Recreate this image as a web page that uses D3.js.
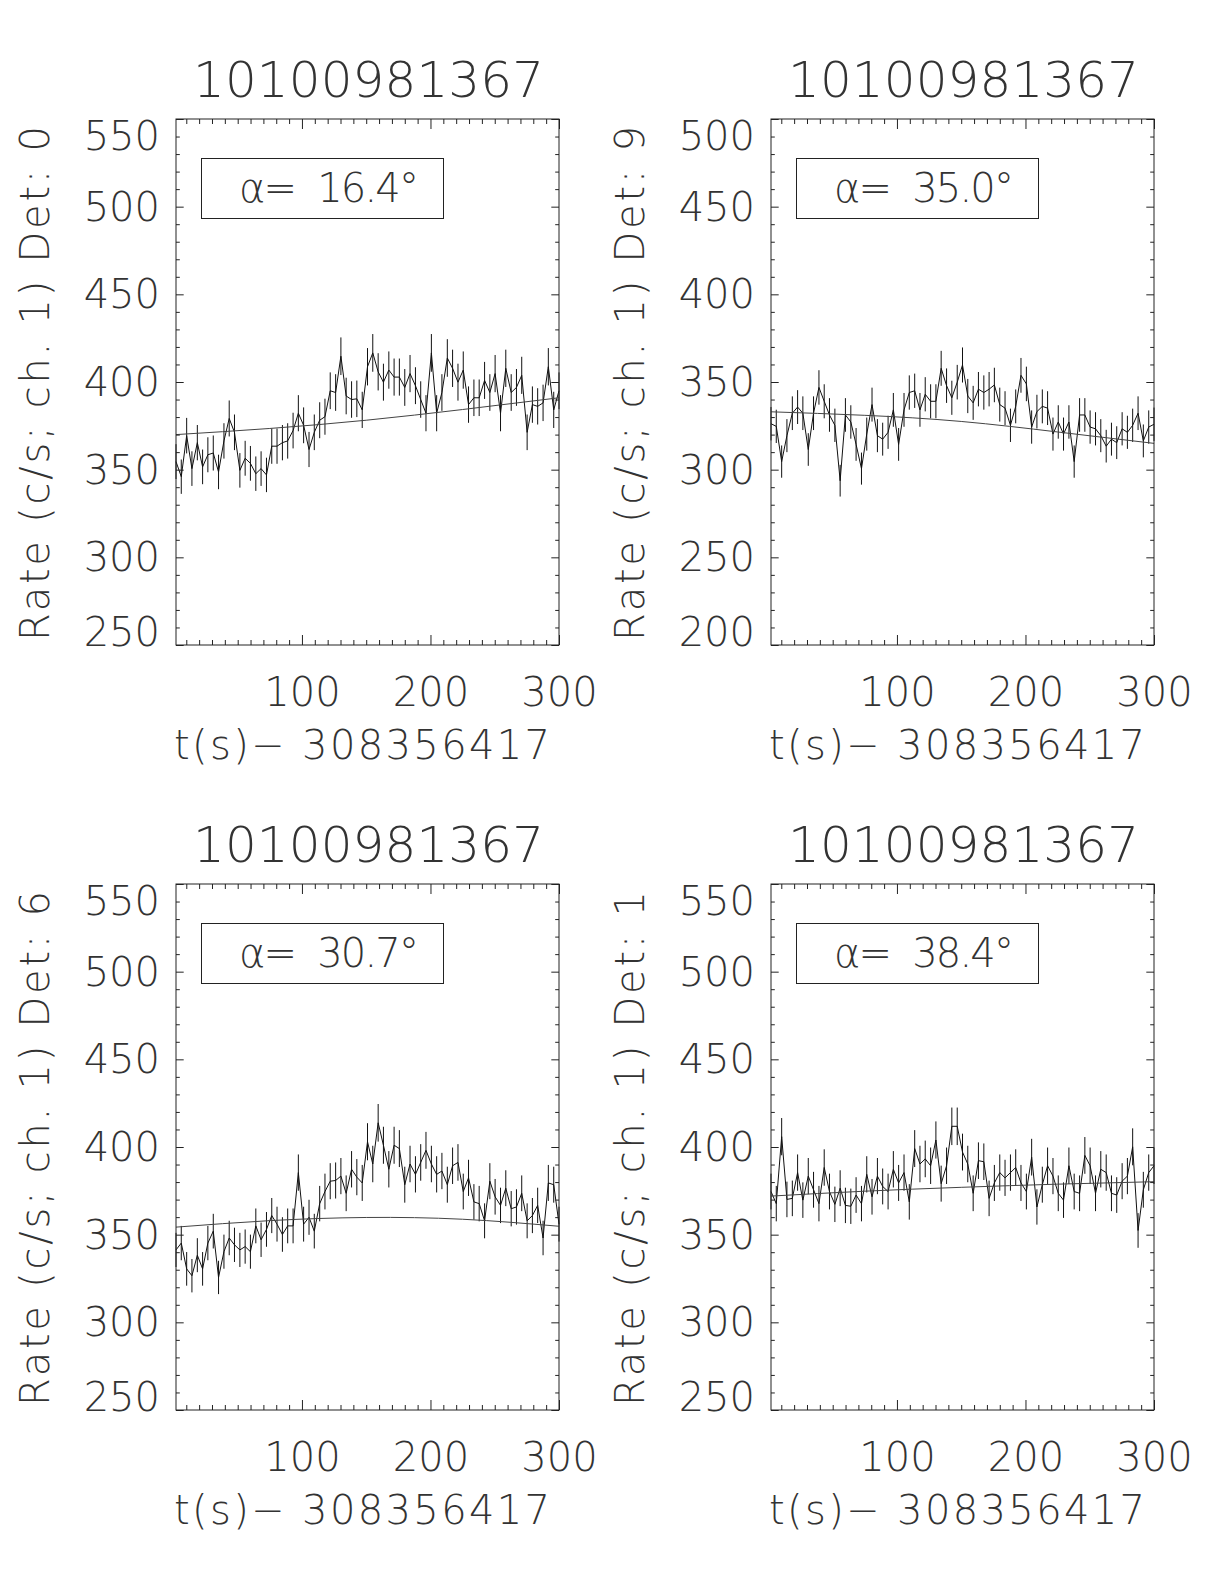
<!DOCTYPE html>
<html><head><meta charset="utf-8">
<script src="https://cdn.jsdelivr.net/npm/d3@7"></script>
<style>
html,body{margin:0;padding:0;background:#fff;}
svg text{font-family:"DejaVu Sans",sans-serif;font-weight:200;fill:#333;}
</style></head><body>
<svg id="chart" width="1224" height="1584"></svg>
<script>
// ---------- data ----------
const obsTitle = "10100981367";
const xTitle = "t(s)\u2212 308356417";
const yTitlePrefix = "Rate (c/s; ch. 1) Det: ";
const detectors = ["0", "9", "6", "1"];
const angles = ["16.4", "35.0", "30.7", "38.4"];

const times = [2.0, 6.1, 10.3, 14.4, 18.6, 22.7, 26.8, 31.0, 35.1, 39.3, 43.4, 47.5, 51.7, 55.8, 59.9, 64.1, 68.2, 72.4, 76.5, 80.6, 84.8, 88.9, 93.1, 97.2, 101.3, 105.5, 109.6, 113.8, 117.9, 122.0, 126.2, 130.3, 134.4, 138.6, 142.7, 146.9, 151.0, 155.1, 159.3, 163.4, 167.6, 171.7, 175.8, 180.0, 184.1, 188.3, 192.4, 196.5, 200.7, 204.8, 208.9, 213.1, 217.2, 221.4, 225.5, 229.6, 233.8, 237.9, 242.1, 246.2, 250.3, 254.5, 258.6, 262.8, 266.9, 271.0, 275.2, 279.3, 283.4, 287.6, 291.7, 295.9, 300.0];

const rateDet0 = [354.6, 346.0, 369.4, 350.6, 365.4, 351.6, 358.5, 359.5, 348.7, 366.4, 379.2, 371.3, 349.6, 356.5, 353.6, 347.7, 350.6, 347.0, 363.4, 363.4, 365.4, 366.4, 372.3, 382.2, 375.3, 361.5, 371.3, 378.2, 380.2, 395.0, 394.0, 414.7, 392.0, 390.0, 390.4, 384.1, 408.7, 416.6, 405.8, 399.9, 406.8, 402.8, 402.8, 396.9, 404.8, 397.9, 390.0, 382.2, 416.6, 382.2, 394.0, 413.7, 407.8, 399.9, 406.8, 387.1, 391.0, 391.0, 400.9, 394.0, 404.8, 382.2, 407.8, 394.0, 396.9, 403.8, 371.3, 387.1, 386.1, 388.1, 408.7, 384.1, 395.0];
const rateDet9 = [326.2, 324.7, 304.6, 319.4, 332.2, 335.7, 332.2, 311.5, 332.2, 346.9, 339.0, 331.2, 325.3, 293.7, 331.2, 327.2, 314.4, 300.6, 320.3, 337.1, 319.4, 317.4, 321.3, 334.1, 314.4, 334.1, 344.0, 345.0, 334.1, 343.0, 339.0, 339.0, 357.8, 347.9, 341.0, 349.9, 359.7, 342.0, 338.1, 345.9, 344.0, 345.9, 348.3, 337.1, 335.1, 325.3, 336.1, 353.8, 348.9, 324.3, 333.1, 336.1, 335.1, 320.3, 327.2, 320.3, 327.2, 304.6, 331.2, 331.2, 324.3, 323.3, 319.4, 313.4, 317.4, 315.4, 323.3, 321.3, 325.3, 332.2, 316.4, 324.3, 325.9];
const rateDet6 = [341.3, 345.2, 330.5, 326.6, 338.3, 330.5, 345.2, 352.0, 325.6, 340.3, 348.1, 344.2, 341.3, 343.2, 340.3, 355.0, 347.1, 353.0, 360.9, 356.0, 350.1, 355.0, 355.0, 385.4, 356.0, 359.9, 352.0, 367.7, 374.6, 380.5, 380.9, 383.4, 373.6, 387.3, 382.8, 379.5, 403.0, 390.3, 413.8, 401.0, 387.3, 401.0, 399.1, 378.5, 390.3, 384.4, 391.2, 398.1, 390.3, 384.4, 386.3, 378.5, 389.3, 391.2, 374.6, 382.4, 368.7, 367.7, 357.9, 380.5, 371.6, 366.7, 376.5, 364.8, 365.8, 373.6, 357.9, 360.9, 366.7, 348.1, 379.5, 378.5, 356.0];
const rateDet1 = [374.6, 367.7, 405.9, 370.1, 370.7, 385.4, 369.7, 383.4, 375.6, 367.7, 388.3, 374.6, 367.3, 376.5, 366.7, 366.2, 372.6, 367.7, 384.4, 371.6, 383.4, 377.5, 374.6, 387.3, 379.5, 385.4, 368.7, 399.1, 390.3, 393.2, 389.3, 404.0, 379.1, 389.3, 411.8, 411.8, 397.1, 390.3, 373.6, 392.2, 391.6, 370.7, 379.5, 385.4, 382.4, 385.4, 388.3, 379.5, 374.6, 394.2, 365.8, 378.5, 389.3, 383.4, 373.6, 369.7, 389.3, 374.6, 373.6, 395.2, 389.3, 373.6, 387.3, 385.4, 373.6, 372.6, 380.5, 383.4, 400.1, 352.4, 375.6, 385.4, 389.3];

// background fit curves (read at a few times)
const fitTimes = [2, 75, 150, 225, 300];
const fitDet0 = [370.0, 373.5, 378.2, 384.3, 391.0];
const fitDet9 = [333.0, 331.0, 327.5, 321.5, 315.0];
const fitDet6 = [354.3, 358.0, 359.8, 358.8, 354.8];
const fitDet1 = [372.0, 374.8, 377.0, 378.8, 380.2];

const xDomain = [2, 300];
const xMajorTicks = [100, 200, 300];
const yTicksA = [250, 300, 350, 400, 450, 500, 550];
const yTicksB = [200, 250, 300, 350, 400, 450, 500];
const exposure = 3.6; // effective seconds per bin for Poisson error bars

const panels = [
  {det: detectors[0], angle: angles[0], rates: rateDet0, fit: fitDet0, yTicks: yTicksA},
  {det: detectors[1], angle: angles[1], rates: rateDet9, fit: fitDet9, yTicks: yTicksB},
  {det: detectors[2], angle: angles[2], rates: rateDet6, fit: fitDet6, yTicks: yTicksA},
  {det: detectors[3], angle: angles[3], rates: rateDet1, fit: fitDet1, yTicks: yTicksA}
];

// ---------- layout ----------
const W = 383, H = 526;
const origins = [[176, 119], [771, 119], [176, 884], [771, 884]];
const svg = d3.select("#chart");
const ink = "#222";

panels.forEach((p, i) => {
  const [ox, oy] = origins[i];
  const g = svg.append("g").attr("transform", `translate(${ox},${oy})`);
  const x = d3.scaleLinear().domain(xDomain).range([0, W]);
  const yDom = [p.yTicks[0], p.yTicks[p.yTicks.length - 1]];
  const y = d3.scaleLinear().domain(yDom).range([H, 0]);
  const xMinor = d3.range(10, 301, 10).filter(v => !xMajorTicks.includes(v));
  const yMinor = d3.range(yDom[0], yDom[1] + 1, 10).filter(v => !p.yTicks.includes(v));

  const pts = times.map((t, k) => ({t, v: p.rates[k]}));
  const err = v => Math.sqrt(v / exposure);

  // error bars
  g.append("g").selectAll("line").data(pts).join("line")
    .attr("x1", d => x(d.t)).attr("x2", d => x(d.t))
    .attr("y1", d => y(d.v - err(d.v))).attr("y2", d => y(d.v + err(d.v)))
    .attr("stroke", "#111").attr("stroke-width", 1);

  // light curve
  g.append("path").datum(pts)
    .attr("d", d3.line().x(d => x(d.t)).y(d => y(d.v)))
    .attr("fill", "none").attr("stroke", "#111").attr("stroke-width", 1);

  // fit
  g.append("path").datum(fitTimes.map((t, k) => [t, p.fit[k]]))
    .attr("d", d3.line().x(d => x(d[0])).y(d => y(d[1])).curve(d3.curveNatural))
    .attr("fill", "none").attr("stroke", "#444").attr("stroke-width", 1);

  // frame
  g.append("rect").attr("width", W).attr("height", H)
    .attr("fill", "none").attr("stroke", ink).attr("stroke-width", 1);

  const noLab = () => "";
  const axisStyle = sel => sel.attr("color", ink).attr("font-size", 40).attr("font-family", null)
    .call(s => s.select(".domain").remove());

  // bottom axis with labels
  g.append("g").attr("transform", `translate(0,${H})`)
    .call(d3.axisBottom(x).tickValues(xMajorTicks).tickSizeInner(-10).tickSizeOuter(0).tickPadding(33).tickFormat(d3.format("d")))
    .call(axisStyle);
  g.append("g").attr("transform", `translate(0,${H})`)
    .call(d3.axisBottom(x).tickValues(xMinor).tickSizeInner(-5).tickSizeOuter(0).tickFormat(noLab))
    .call(axisStyle);
  // top axis mirrored
  g.append("g")
    .call(d3.axisTop(x).tickValues(xMajorTicks).tickSizeInner(-10).tickSizeOuter(0).tickFormat(noLab))
    .call(axisStyle);
  g.append("g")
    .call(d3.axisTop(x).tickValues(xMinor).tickSizeInner(-5).tickSizeOuter(0).tickFormat(noLab))
    .call(axisStyle);

  // left axis with labels
  const yl = g.append("g")
    .call(d3.axisLeft(y).tickValues(p.yTicks).tickSizeInner(-7.7).tickSizeOuter(0).tickPadding(16).tickFormat(d3.format("d")))
    .call(axisStyle);
  yl.selectAll(".tick text").attr("dy", d => d === yDom[1] ? "30.5px" : (d === yDom[0] ? "0px" : "0.34em"));
  g.append("g")
    .call(d3.axisLeft(y).tickValues(yMinor).tickSizeInner(-3.8).tickSizeOuter(0).tickFormat(noLab))
    .call(axisStyle);
  // right axis mirrored
  g.append("g").attr("transform", `translate(${W},0)`)
    .call(d3.axisRight(y).tickValues(p.yTicks).tickSizeInner(-7.7).tickSizeOuter(0).tickFormat(noLab))
    .call(axisStyle);
  g.append("g").attr("transform", `translate(${W},0)`)
    .call(d3.axisRight(y).tickValues(yMinor).tickSizeInner(-3.8).tickSizeOuter(0).tickFormat(noLab))
    .call(axisStyle);

  // title
  g.append("text").attr("x", 17).attr("y", -21.8).attr("font-size", 50)
    .attr("textLength", 351).attr("lengthAdjust", "spacing").text(obsTitle);

  // x title
  g.append("text").attr("x", -2).attr("y", H + 113.5).attr("font-size", 40)
    .attr("textLength", 376).attr("lengthAdjust", "spacing").text(xTitle);

  // y title
  g.append("text").attr("transform", `translate(-127.5,${H / 2 + 1.5}) rotate(-90)`)
    .attr("text-anchor", "middle").attr("font-size", 40)
    .attr("textLength", 515).attr("lengthAdjust", "spacing").text(yTitlePrefix + p.det);

  // angle box
  g.append("rect").attr("x", 25.5).attr("y", 39.5).attr("width", 242).attr("height", 60)
    .attr("fill", "none").attr("stroke", ink).attr("stroke-width", 1);
  g.append("text").attr("x", 63).attr("y", 83).attr("font-size", 40)
    .attr("textLength", 180).attr("lengthAdjust", "spacing")
    .text("\u03b1=\u00a0\u00a0" + p.angle + "\u00b0");
});
</script>
</body></html>
